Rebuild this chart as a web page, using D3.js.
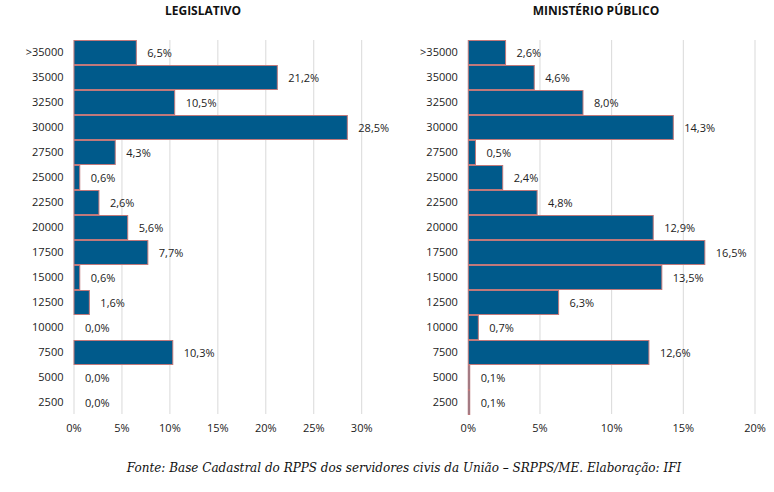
<!DOCTYPE html>
<html><head><meta charset="utf-8">
<script src="https://cdn.jsdelivr.net/npm/d3@7"></script>
<style>body{margin:0;background:#fff}svg{display:block}</style>
</head><body>
<svg id="c" width="774" height="492"></svg>
<script>
const categories = [">35000","35000","32500","30000","27500","25000","22500","20000","17500","15000","12500","10000","7500","5000","2500"];
const legislativo = [6.5,21.2,10.5,28.5,4.3,0.6,2.6,5.6,7.7,0.6,1.6,0.0,10.3,0.0,0.0];
const ministerio = [2.6,4.6,8.0,14.3,0.5,2.4,4.8,12.9,16.5,13.5,6.3,0.7,12.6,0.1,0.1];
const legTicks = [0,5,10,15,20,25,30];
const mpTicks = [0,5,10,15,20];
const titles = ["LEGISLATIVO","MINISTÉRIO PÚBLICO"];
const source = "Fonte: Base Cadastral do RPPS dos servidores civis da União – SRPPS/ME. Elaboração: IFI";

const svg = d3.select("#c");
const fmt = v => v.toFixed(1).replace(".", ",") + "%";
const labelFont = "'Open Sans', 'Noto Sans', sans-serif";

function panel(cfg){
  const g = svg.append("g");
  const x = d3.scaleLinear().domain([0, cfg.max]).range([cfg.x0, cfg.x1]);
  const y = d3.scaleBand().domain(categories).range([40, 415]).paddingInner(0.04).paddingOuter(0.02);
  g.selectAll("line.grid").data(cfg.ticks).join("line")
    .attr("x1", d => x(d)).attr("x2", d => x(d))
    .attr("y1", 40).attr("y2", 414)
    .attr("stroke", "#d9d9d9").attr("stroke-width", 1);
  g.selectAll("rect").data(cfg.values).join("rect")
    .attr("x", x(0)).attr("y", (d,i) => y(categories[i]))
    .attr("width", d => x(d) - x(0)).attr("height", y.bandwidth())
    .attr("fill", "#005a8b")
    .attr("stroke", d => d > 0 ? "#c0787a" : "none").attr("stroke-width", 1);
  g.selectAll("text.val").data(cfg.values).join("text")
    .attr("x", d => x(d) + 11).attr("y", (d,i) => y(categories[i]) + y.bandwidth()/2 + 4)
    .attr("font-family", labelFont).attr("font-size", 11).attr("fill", "#222")
    .text(d => fmt(d));
  g.selectAll("text.cat").data(categories).join("text")
    .attr("x", cfg.x0 - 10.5).attr("y", d => y(d) + y.bandwidth()/2 + 3.5)
    .attr("text-anchor", "end")
    .attr("font-family", labelFont).attr("font-size", 11).attr("fill", "#222")
    .text(d => d);
  g.selectAll("text.tick").data(cfg.ticks).join("text")
    .attr("x", d => x(d)).attr("y", 432).attr("text-anchor", "middle")
    .attr("font-family", labelFont).attr("font-size", 11).attr("fill", "#222")
    .text(d => d + "%");
  g.append("text").attr("x", cfg.tx).attr("y", 15).attr("text-anchor", "middle")
    .attr("font-family", labelFont).attr("font-weight", "bold").attr("font-size", 12).attr("fill", "#111")
    .text(cfg.title);
}

panel({values: legislativo, max: 30, ticks: legTicks, x0: 74, x1: 361.7, tx: 203, title: titles[0]});
panel({values: ministerio, max: 20, ticks: mpTicks, x0: 468.3, x1: 755, tx: 596, title: titles[1]});

svg.append("text").attr("x", 404).attr("y", 472).attr("text-anchor", "middle")
  .attr("font-family", "'DejaVu Serif', serif").attr("font-style", "italic").attr("font-size", 12).attr("fill", "#111")
  .text(source);
</script>
</body></html>
